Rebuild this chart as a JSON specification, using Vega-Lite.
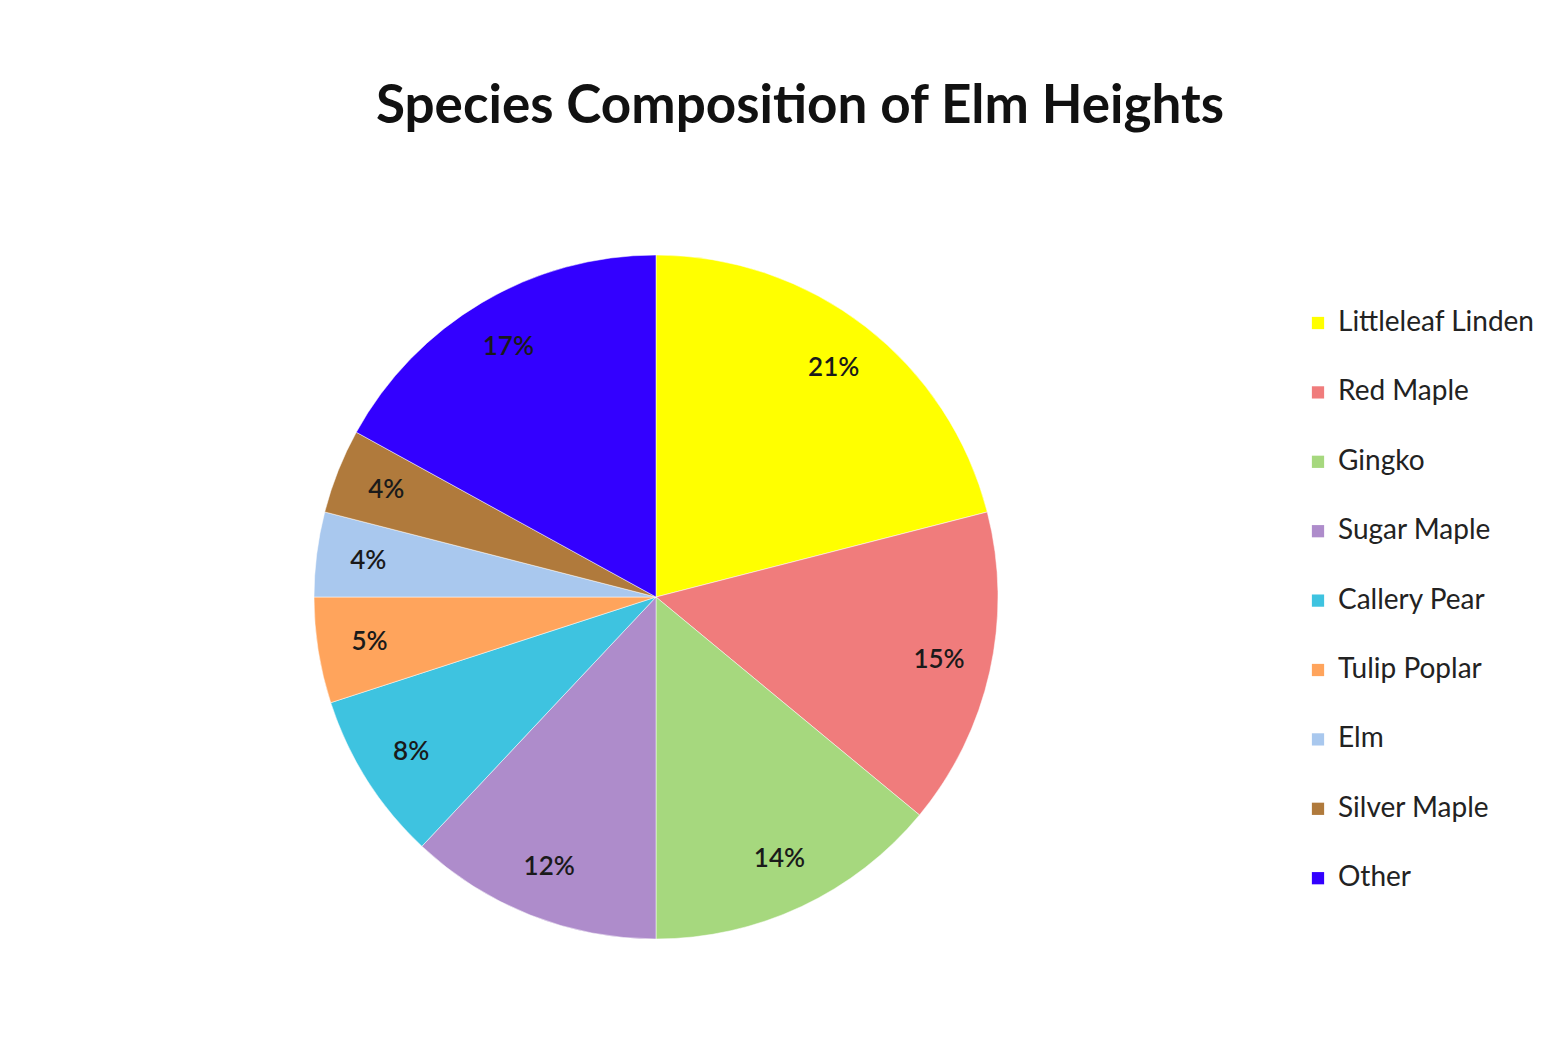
{
  "$schema": "https://vega.github.io/schema/vega-lite/v6.json",
  "autosize": {"type": "none"},
  "width": 680,
  "height": 710,
  "padding": {"left": 316, "top": 242, "right": 564, "bottom": 85},
  "background": "white",
  "config": {"view": {"stroke": null}, "font": "Lato"},
  "title": {
    "text": "Species Composition of Elm Heights",
    "font": "Lato",
    "fontSize": 53,
    "fontWeight": "bold",
    "color": "#111111",
    "anchor": "middle",
    "dx": 144,
    "offset": 108
  },
  "data": {
    "values": [
      {"species": "Littleleaf Linden", "share": 0.21, "ord": 1},
      {"species": "Red Maple", "share": 0.15, "ord": 2},
      {"species": "Gingko", "share": 0.14, "ord": 3},
      {"species": "Sugar Maple", "share": 0.12, "ord": 4},
      {"species": "Callery Pear", "share": 0.08, "ord": 5},
      {"species": "Tulip Poplar", "share": 0.05, "ord": 6},
      {"species": "Elm", "share": 0.04, "ord": 7},
      {"species": "Silver Maple", "share": 0.04, "ord": 8},
      {"species": "Other", "share": 0.17, "ord": 9}
    ]
  },
  "encoding": {
    "theta": {"field": "share", "type": "quantitative", "stack": true},
    "order": {"field": "ord", "type": "quantitative"},
    "color": {
      "field": "species",
      "type": "nominal",
      "sort": ["Littleleaf Linden", "Red Maple", "Gingko", "Sugar Maple", "Callery Pear", "Tulip Poplar", "Elm", "Silver Maple", "Other"],
      "scale": {
        "domain": ["Littleleaf Linden", "Red Maple", "Gingko", "Sugar Maple", "Callery Pear", "Tulip Poplar", "Elm", "Silver Maple", "Other"],
        "range": ["#ffff00", "#f07c7c", "#a6d87e", "#ae8ccb", "#3ec3e0", "#ffa45c", "#a9c8ee", "#b07a3c", "#3300ff"]
      },
      "legend": {
        "title": null,
        "orient": "none",
        "legendX": 988,
        "legendY": 67,
        "symbolType": "square",
        "symbolSize": 150,
        "symbolStrokeWidth": 0,
        "labelFontSize": 28,
        "labelFont": "Lato",
        "labelColor": "#222222",
        "labelLimit": 400,
        "rowPadding": 41.4,
        "symbolOffset": 0,
        "labelOffset": 6
      }
    }
  },
  "layer": [
    {"mark": {"type": "arc", "outerRadius": 342, "stroke": "white", "strokeWidth": 0.5}},
    {
      "mark": {"type": "text", "radius": 290, "fontSize": 26, "font": "Lato", "fontWeight": 600},
      "encoding": {
        "text": {"field": "share", "type": "quantitative", "format": ".0%"},
        "color": {"value": "#1a1a1a"}
      }
    }
  ]
}
